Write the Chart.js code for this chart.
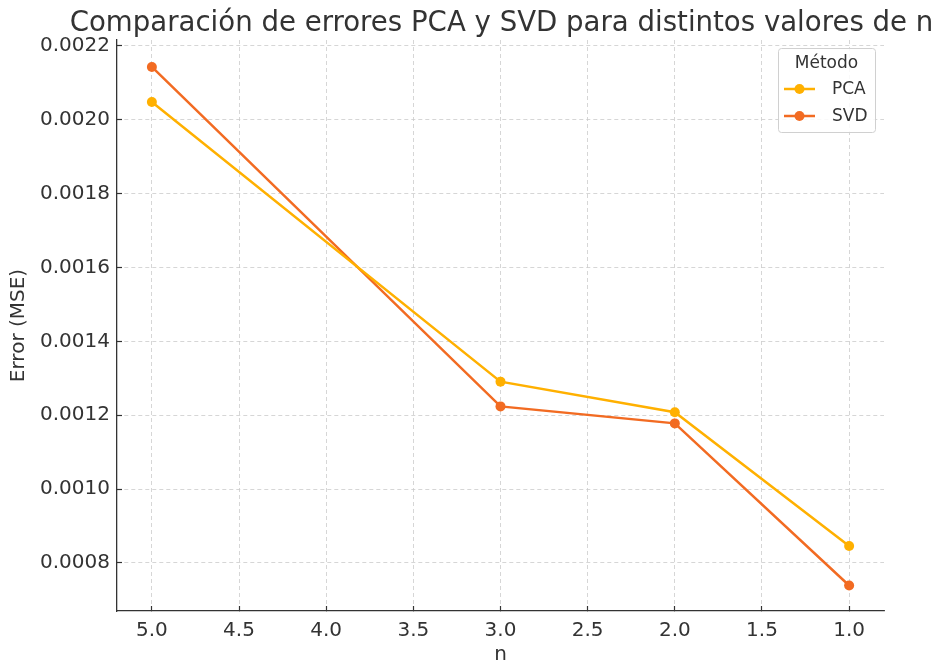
<!DOCTYPE html>
<html>
<head>
<meta charset="utf-8">
<script src="https://cdn.jsdelivr.net/npm/chart.js@4/dist/chart.umd.min.js"></script>
<style>
  html, body { margin: 0; padding: 0; background: #fff; }
  #wrap { width: 935px; height: 664px; position: relative; }
</style>
</head>
<body>
<div id="wrap"><canvas id="chart" width="935" height="664"></canvas></div>
<script>
// datos
const nValues = [5, 3, 2, 1];
const pcaErrors = [0.002048, 0.001291, 0.001208, 0.000846];
const svdErrors = [0.002143, 0.001224, 0.001178, 0.000739];
const xTicks = [5.0, 4.5, 4.0, 3.5, 3.0, 2.5, 2.0, 1.5, 1.0];
const yTicks = [0.0008, 0.0010, 0.0012, 0.0014, 0.0016, 0.0018, 0.0020, 0.0022];

const titleText = 'Comparación de errores PCA y SVD para distintos valores de n';
const FONT = "'DejaVu Sans', sans-serif";
const INK = '#333333';

Chart.defaults.font.family = FONT;
Chart.defaults.color = INK;

const toPoints = (ys) => nValues.map((n, i) => ({ x: n, y: ys[i] }));

// titulo centrado sobre el area del grafico (se corta a la derecha como el original)
const titlePlugin = {
  id: 'plotTitle',
  afterDraw(chart) {
    const ctx = chart.ctx;
    const a = chart.chartArea;
    ctx.save();
    ctx.font = '27.6px ' + FONT;
    ctx.fillStyle = INK;
    ctx.textAlign = 'center';
    ctx.textBaseline = 'alphabetic';
    ctx.fillText(titleText, (a.left + a.right) / 2 + 1, 31);
    ctx.restore();
  }
};

// leyenda con marco, estilo matplotlib
const legendPlugin = {
  id: 'boxLegend',
  afterDraw(chart) {
    const ctx = chart.ctx;
    const x = 778, y = 48, w = 97, h = 84;
    ctx.save();
    ctx.fillStyle = 'rgba(255,255,255,0.85)';
    ctx.strokeStyle = '#d0d0d0';
    ctx.lineWidth = 1;
    ctx.beginPath();
    ctx.roundRect(x + 0.5, y + 0.5, w, h, 3);
    ctx.fill();
    ctx.stroke();
    ctx.fillStyle = INK;
    ctx.font = '17px ' + FONT;
    ctx.textAlign = 'center';
    ctx.textBaseline = 'middle';
    ctx.fillText('Método', x + w / 2, y + 16);
    chart.data.datasets.forEach((ds, i) => {
      const cy = y + 41 + i * 27;
      ctx.strokeStyle = ds.borderColor;
      ctx.lineWidth = 2.5;
      ctx.beginPath();
      ctx.moveTo(x + 6, cy);
      ctx.lineTo(x + 37, cy);
      ctx.stroke();
      ctx.fillStyle = ds.borderColor;
      ctx.beginPath();
      ctx.arc(x + 21.5, cy, 5, 0, 2 * Math.PI);
      ctx.fill();
      ctx.fillStyle = INK;
      ctx.textAlign = 'left';
      ctx.fillText(ds.label, x + 54, cy + 1);
    });
    ctx.restore();
  }
};

// marcas hacia dentro (tickLength negativo)
const gridOpts = {
  color: '#cccccc',
  lineWidth: 0.8,
  drawTicks: true,
  tickLength: -5,
  tickColor: INK,
  tickWidth: 1.2
};

new Chart(document.getElementById('chart').getContext('2d'), {
  type: 'line',
  data: {
    datasets: [
      { label: 'PCA', data: toPoints(pcaErrors), borderColor: '#ffb000', backgroundColor: '#ffb000', borderWidth: 2.5, pointRadius: 5, pointBorderWidth: 0, tension: 0 },
      { label: 'SVD', data: toPoints(svdErrors), borderColor: '#f26b22', backgroundColor: '#f26b22', borderWidth: 2.5, pointRadius: 5, pointBorderWidth: 0, tension: 0 }
    ]
  },
  options: {
    responsive: false,
    animation: false,
    layout: { padding: { top: 40, right: 51, left: 0, bottom: 0 } },
    plugins: { legend: { display: false }, tooltip: { enabled: false }, title: { display: false } },
    scales: {
      x: {
        type: 'linear',
        reverse: true,
        min: 0.8,
        max: 5.2,
        afterBuildTicks: (s) => { s.ticks = xTicks.map(v => ({ value: v })); },
        afterFit: (s) => { s.height = 53; },
        ticks: { font: { size: 20 }, color: INK, padding: 13, maxRotation: 0, callback: (v) => v.toFixed(1) },
        grid: gridOpts,
        border: { display: true, color: INK, width: 1.3, dash: [4, 3] },
        title: { display: true, text: 'n', font: { size: 20 }, color: INK, padding: { top: 0, bottom: -3 } }
      },
      y: {
        type: 'linear',
        min: 0.00067,
        max: 0.002216,
        afterBuildTicks: (s) => { s.ticks = yTicks.map(v => ({ value: v })); },
        afterFit: (s) => { s.width = 117; },
        ticks: { font: { size: 20 }, color: INK, padding: 12, callback: (v) => v.toFixed(4) },
        grid: gridOpts,
        border: { display: true, color: INK, width: 1.3, dash: [4, 3] },
        title: { display: true, text: 'Error (MSE)', font: { size: 20 }, color: INK, padding: { top: 7, bottom: 0 } }
      }
    }
  },
  plugins: [titlePlugin, legendPlugin]
});
</script>
</body>
</html>
